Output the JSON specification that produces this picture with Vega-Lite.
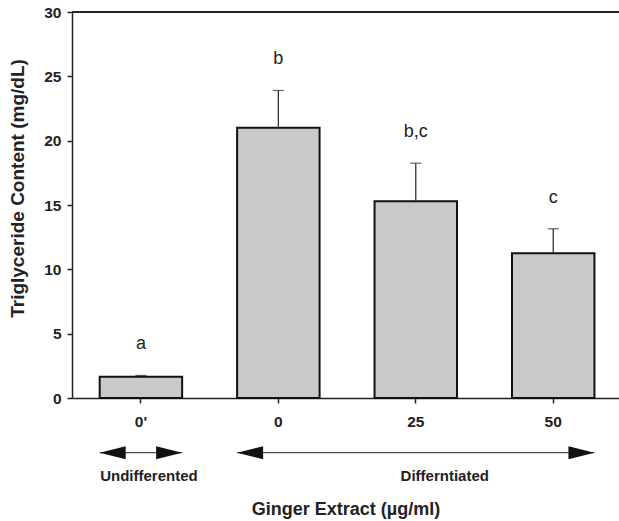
{
  "$schema": "https://vega.github.io/schema/vega-lite/v6.json",
  "autosize": "none",
  "width": 547,
  "height": 386,
  "padding": {"left": 72, "top": 12, "right": 0, "bottom": 123},
  "background": "white",
  "config": {
    "view": {"stroke": null},
    "font": "Liberation Sans",
    "axis": {
      "domainColor": "#222222",
      "domainWidth": 1.5,
      "tickColor": "#222222",
      "tickWidth": 1.5,
      "tickSize": 5,
      "grid": false,
      "labelFont": "Liberation Sans",
      "labelFontWeight": "bold",
      "labelFontSize": 15.5,
      "labelColor": "#222222",
      "titleFont": "Liberation Sans",
      "titleFontWeight": "bold",
      "titleColor": "#222222"
    }
  },
  "datasets": {
    "bars": [
      {"dose": "0'", "mean": 1.65, "upper": 1.75, "sig": "a"},
      {"dose": "0", "mean": 21.0, "upper": 23.9, "sig": "b"},
      {"dose": "25", "mean": 15.3, "upper": 18.25, "sig": "b,c"},
      {"dose": "50", "mean": 11.25, "upper": 13.15, "sig": "c"}
    ],
    "groups": [
      {"group": "Undifferented", "from": "0'", "to": "0'", "center": "0'"},
      {"group": "Differntiated", "from": "0", "to": "50", "center": "25"}
    ]
  },
  "layer": [
    {
      "data": {"name": "bars"},
      "mark": {"type": "bar", "fill": "#c8c9cb", "stroke": "#111111", "strokeWidth": 2},
      "encoding": {
        "x": {
          "field": "dose", "type": "nominal", "sort": null, "title": "Ginger Extract (µg/ml)",
          "scale": {"domain": ["0'", "0", "25", "50"], "paddingInner": 0.4, "paddingOuter": 0.19, "align": 0.53},
          "axis": {"titleFontSize": 18, "titlePadding": 71, "labelAngle": 0, "labelPadding": 11}
        },
        "y": {
          "field": "mean", "type": "quantitative", "title": "Triglyceride Content (mg/dL)",
          "scale": {"domain": [0, 30], "nice": false, "zero": true},
          "axis": {"titleFontSize": 19, "titlePadding": 16, "titleY": 176, "values": [0, 5, 10, 15, 20, 25, 30], "labelPadding": 6}
        }
      }
    },
    {
      "data": {"name": "bars"},
      "mark": {"type": "rule", "color": "#222222", "strokeWidth": 1.2},
      "encoding": {
        "x": {"field": "dose", "type": "nominal", "sort": null, "title": "Ginger Extract (µg/ml)"},
        "y": {"field": "mean", "type": "quantitative", "title": "Triglyceride Content (mg/dL)"},
        "y2": {"field": "upper"}
      }
    },
    {
      "data": {"name": "bars"},
      "mark": {"type": "tick", "orient": "horizontal", "color": "#222222", "thickness": 1.2, "size": 11},
      "encoding": {
        "x": {"field": "dose", "type": "nominal", "sort": null, "title": "Ginger Extract (µg/ml)"},
        "y": {"field": "upper", "type": "quantitative", "title": "Triglyceride Content (mg/dL)"}
      }
    },
    {
      "data": {"name": "bars"},
      "mark": {"type": "text", "font": "Liberation Sans", "fontSize": 18, "color": "#222222", "baseline": "middle", "dy": -31},
      "encoding": {
        "x": {"field": "dose", "type": "nominal", "sort": null, "title": "Ginger Extract (µg/ml)"},
        "y": {"field": "upper", "type": "quantitative", "title": "Triglyceride Content (mg/dL)"},
        "text": {"field": "sig"}
      }
    },
    {
      "data": {"name": "bars"},
      "mark": {"type": "rule", "color": "#222222", "strokeWidth": 1.5},
      "encoding": {"y": {"datum": 30}}
    },
    {
      "data": {"name": "groups"},
      "mark": {"type": "rule", "color": "#222222", "strokeWidth": 1},
      "encoding": {
        "x": {"field": "from", "type": "nominal", "bandPosition": 0, "title": "Ginger Extract (µg/ml)"},
        "x2": {"field": "to", "bandPosition": 1},
        "y": {"datum": -4.25}
      }
    },
    {
      "data": {"name": "groups"},
      "mark": {"type": "point", "shape": "M0,0 L2,-0.5 L2,0.5 Z", "filled": true, "fill": "#111111", "strokeWidth": 0, "size": 676, "opacity": 1},
      "encoding": {
        "x": {"field": "from", "type": "nominal", "bandPosition": 0, "title": "Ginger Extract (µg/ml)"},
        "y": {"datum": -4.25}
      }
    },
    {
      "data": {"name": "groups"},
      "mark": {"type": "point", "shape": "M0,0 L-2,-0.5 L-2,0.5 Z", "filled": true, "fill": "#111111", "strokeWidth": 0, "size": 676, "opacity": 1},
      "encoding": {
        "x": {"field": "to", "type": "nominal", "bandPosition": 1, "title": "Ginger Extract (µg/ml)"},
        "y": {"datum": -4.25}
      }
    },
    {
      "data": {"name": "groups"},
      "transform": [{"filter": "datum.group === 'Undifferented'"}],
      "mark": {"type": "text", "font": "Liberation Sans", "fontWeight": "bold", "fontSize": 15, "color": "#222222", "baseline": "middle", "dx": 8},
      "encoding": {
        "x": {"field": "center", "type": "nominal", "title": "Ginger Extract (µg/ml)"},
        "y": {"datum": -6.1},
        "text": {"field": "group"}
      }
    },
    {
      "data": {"name": "groups"},
      "transform": [{"filter": "datum.group === 'Differntiated'"}],
      "mark": {"type": "text", "font": "Liberation Sans", "fontWeight": "bold", "fontSize": 15, "color": "#222222", "baseline": "middle", "dx": 29},
      "encoding": {
        "x": {"field": "center", "type": "nominal", "title": "Ginger Extract (µg/ml)"},
        "y": {"datum": -6.1},
        "text": {"field": "group"}
      }
    }
  ]
}
